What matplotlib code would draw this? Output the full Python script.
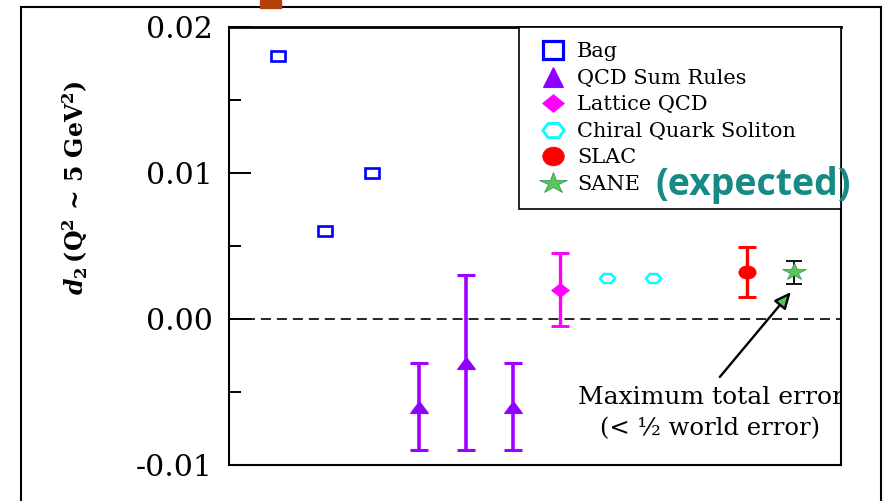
import matplotlib
matplotlib.use("Agg")
import matplotlib.pyplot as plt
from matplotlib.markers import MarkerStyle
from matplotlib.transforms import Affine2D
from matplotlib.lines import Line2D
from matplotlib.patches import Rectangle

# ---- data -------------------------------------------------------------
bag_x = [1, 2, 3]
bag_y = [0.018, 0.006, 0.010]

qsr_x = [4, 5, 6]
qsr_y = [-0.006, -0.003, -0.006]
qsr_err = [0.003, 0.006, 0.003]

lat_x = [7]
lat_y = [0.002]
lat_err = [0.0025]

cqs_x = [8, 9]
cqs_y = [0.0028, 0.0028]

slac_x = [11]
slac_y = [0.0032]
slac_err = [0.0017]

sane_x = [12]
sane_y = [0.0032]
sane_err = [0.0008]

legend_labels = ["Bag", "QCD Sum Rules", "Lattice QCD",
                 "Chiral Quark Soliton", "SLAC", "SANE"]
ytick_vals = [-0.01, 0.0, 0.01, 0.02]
ytick_labels = ["-0.01", "0.00", "0.01", "0.02"]
yminor_vals = [-0.005, 0.005, 0.015]

# ---- style ------------------------------------------------------------
SERIF = "DejaVu Serif"
plt.rcParams.update({
    "font.family": SERIF,
    "mathtext.fontset": "custom",
    "mathtext.rm": "DejaVu Serif:bold",
    "mathtext.it": "DejaVu Serif:italic:bold",
    "mathtext.bf": "DejaVu Serif:bold",
    "lines.scale_dashes": False,
})

BLUE = "#0000ff"
PURPLE = "#a000ff"
PURPLE_FILL = "#8c00ff"
MAGENTA = "#ff00ff"
CYAN = "#00ffff"
RED = "#ff0000"
GREEN = "#5cc45c"
GREEN_EDGE = "#3c9c50"


def wide(marker, sx):
    """Marker stretched horizontally."""
    return MarkerStyle(marker, transform=Affine2D().scale(sx, 1.0))


W, H = 883, 501
fig = plt.figure(figsize=(W / 100, H / 100), dpi=100)
ax = fig.add_axes([229 / W, 1 - 465 / H, (841 - 229) / W, (465 - 27) / H])

ax.set_xlim(-0.05, 13.0)
ax.set_ylim(-0.01, 0.02)

# zero reference line
ax.axhline(0.0, color="black", lw=1.2, ls=(0, (7.2, 4.3)), zorder=1)

# Bag model
ax.plot(bag_x, bag_y, ls="none", marker=wide("s", 1.5), ms=6.8,
        mfc="none", mec=BLUE, mew=1.9, zorder=3)

# QCD sum rules
ax.errorbar(qsr_x, qsr_y, yerr=qsr_err, fmt="none", ecolor=PURPLE,
            elinewidth=2.6, capsize=6.8, capthick=2.2, zorder=2)
ax.plot(qsr_x, qsr_y, ls="none", marker=wide("^", 1.6), ms=8,
        mfc=PURPLE_FILL, mec=PURPLE, mew=0.8, zorder=3)

# Lattice QCD
ax.errorbar(lat_x, lat_y, yerr=lat_err, fmt="none", ecolor=MAGENTA,
            elinewidth=2.4, capsize=6.5, capthick=2.1, zorder=2)
ax.plot(lat_x, lat_y, ls="none", marker=wide("D", 1.4), ms=6.8,
        mfc=MAGENTA, mec=MAGENTA, mew=0.5, zorder=3)

# Chiral quark soliton
ax.plot(cqs_x, cqs_y, ls="none", marker=wide("H", 1.44), ms=7.5,
        mfc="none", mec=CYAN, mew=1.8, zorder=3)

# SLAC
ax.errorbar(slac_x, slac_y, yerr=slac_err, fmt="none", ecolor=RED,
            elinewidth=2.4, capsize=6.5, capthick=2.1, zorder=2)
ax.plot(slac_x, slac_y, ls="none", marker=wide("o", 1.3), ms=9.6,
        mfc=RED, mec=RED, mew=0.5, zorder=3)

# SANE (expected)
ax.errorbar(sane_x, sane_y, yerr=sane_err, fmt="none", ecolor="black",
            elinewidth=1.3, capsize=5.8, capthick=1.3, zorder=2)
ax.plot(sane_x, sane_y, ls="none", marker=wide("*", 1.4), ms=12.5,
        mfc=GREEN, mec=GREEN_EDGE, mew=0.6, zorder=3)

# ---- axes styling -----------------------------------------------------
for sp in ax.spines.values():
    sp.set_linewidth(1.5)
    sp.set_color("black")
ax.spines["top"].set_linewidth(2.0)
ax.set_xticks([])
ax.set_yticks(ytick_vals, labels=ytick_labels)
ax.set_yticks(yminor_vals, minor=True)
ax.tick_params(axis="y", which="major", direction="in", length=15.8,
               width=1.4, pad=11.5, labelsize=21.5)
ax.tick_params(axis="y", which="minor", direction="in", length=8.6,
               width=1.4)

fig.text(75 / W, 1 - 188 / H, r"$d_2\,$(Q$^2$ ~ 5 GeV$^2$)",
         rotation=90, ha="center", va="center", fontsize=17,
         fontweight="bold", family=SERIF)

# ---- legend -----------------------------------------------------------
handles = [
    Line2D([], [], ls="none", marker=wide("s", 1.19), ms=12.5,
           mfc="none", mec=BLUE, mew=2.3),
    Line2D([], [], ls="none", marker="^", ms=14.5,
           mfc=PURPLE_FILL, mec=PURPLE, mew=0.8),
    Line2D([], [], ls="none", marker=wide("D", 1.2), ms=9,
           mfc=MAGENTA, mec=MAGENTA, mew=0.5),
    Line2D([], [], ls="none", marker=wide("H", 1.3), ms=11.8,
           mfc="none", mec=CYAN, mew=2.0),
    Line2D([], [], ls="none", marker=wide("o", 1.15), ms=13.5,
           mfc=RED, mec=RED, mew=0.5),
    Line2D([], [], ls="none", marker=wide("*", 1.35), ms=15.5,
           mfc=GREEN, mec=GREEN_EDGE, mew=0.6),
]
x0 = (519 - 229) / (841 - 229)
leg = ax.legend(handles, legend_labels, loc="upper left",
                bbox_to_anchor=(x0, 0.0, 1 - x0, 1.0), mode="expand",
                borderaxespad=0.0, fontsize=15, frameon=True,
                fancybox=False, shadow=False, framealpha=1.0,
                edgecolor="black", borderpad=0.74, handlelength=1.79,
                handletextpad=0.26, labelspacing=0.36, numpoints=1)
leg.get_frame().set_linewidth(1.2)
leg.set_zorder(5)

fig.text(753 / W, 1 - 185 / H, "(expected)", family="Open Sans",
         fontweight="bold", fontsize=27, color="#178a85",
         ha="center", va="center", zorder=10)

# ---- annotation -------------------------------------------------------
ax.annotate("", xy=(0.918, 0.395), xycoords="axes fraction",
            xytext=(0.802, 0.201), textcoords="axes fraction",
            arrowprops=dict(arrowstyle="-|>,head_length=1.0,head_width=0.45",
                            fc="#4fc25a", ec="black", lw=1.7,
                            shrinkA=0, shrinkB=0), zorder=6)
ax.text(0.787, 0.153, "Maximum total error", transform=ax.transAxes,
        ha="center", va="center", fontsize=18, clip_on=True, zorder=6)
ax.text(0.786, 0.084, "(< \u00bd world error)", transform=ax.transAxes,
        ha="center", va="center", fontsize=17.5, zorder=6)

# ---- slide frame ------------------------------------------------------
frame_kw = dict(color="black", lw=1.5, transform=fig.transFigure)
fig.add_artist(Line2D([21 / W, 21 / W], [0, 1 - 7 / H], **frame_kw))
fig.add_artist(Line2D([21 / W, 881 / W], [1 - 7 / H, 1 - 7 / H], **frame_kw))
fig.add_artist(Line2D([881 / W, 881 / W], [0, 1 - 7 / H], **frame_kw))
fig.add_artist(Rectangle((260 / W, 1 - 8 / H), 21 / W, 8 / H,
                         transform=fig.transFigure, color="#b3400c",
                         zorder=5))

fig.savefig("out.png", dpi=100)
